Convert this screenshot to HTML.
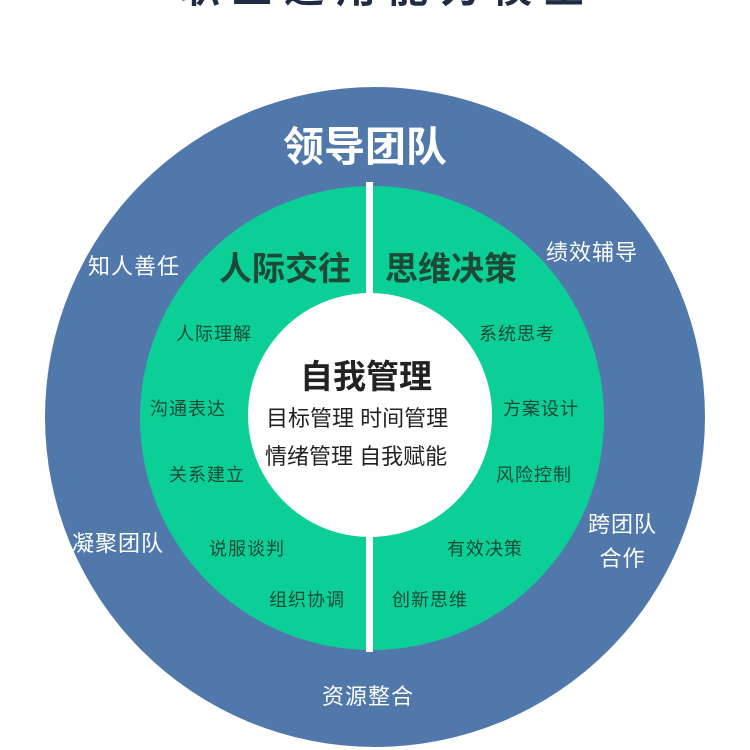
<!DOCTYPE html>
<html><head><meta charset="utf-8"><style>
html,body{margin:0;padding:0;background:#fff;}
body{width:750px;height:750px;position:relative;overflow:hidden;font-family:"Liberation Sans","Noto Sans CJK SC",sans-serif;}
.t{position:absolute;white-space:nowrap;}
.w{color:#fff;font-size:22px;letter-spacing:1px;}
.g{color:#1d4a36;font-size:18px;letter-spacing:1px;}
</style></head><body>
<svg width="750" height="750" style="position:absolute;left:0;top:0">
<circle cx="375" cy="417" r="330" fill="#5078aa"/>
<circle cx="372" cy="418" r="232" fill="#0ccf98"/>
<rect x="366" y="182" width="7" height="470" fill="#fff"/>
<circle cx="370" cy="415" r="122" fill="#fff"/>
</svg>
<div class="t" style="left:180px;top:-44px;font-size:40px;font-weight:bold;color:#1e2c44;letter-spacing:12px;">职业通用能力模型</div>
<div class="t" style="left:283px;top:113px;font-size:41px;font-weight:bold;color:#fff;">领导团队</div>
<div class="t w" style="left:88px;top:249px;">知人善任</div>
<div class="t w" style="left:546px;top:235px;">绩效辅导</div>
<div class="t w" style="left:72px;top:526px;">凝聚团队</div>
<div class="t w" style="left:588px;top:508px;line-height:34px;text-align:center;">跨团队<br>合作</div>
<div class="t w" style="left:322px;top:679px;">资源整合</div>
<div class="t" style="left:219px;top:242px;font-size:33px;font-weight:bold;color:#1d4a36;">人际交往</div>
<div class="t" style="left:385px;top:242px;font-size:33px;font-weight:bold;color:#1d4a36;">思维决策</div>
<div class="t g" style="left:176px;top:320px;">人际理解</div>
<div class="t g" style="left:150px;top:395px;">沟通表达</div>
<div class="t g" style="left:169px;top:461px;">关系建立</div>
<div class="t g" style="left:209px;top:535px;">说服谈判</div>
<div class="t g" style="left:269px;top:586px;">组织协调</div>
<div class="t g" style="left:479px;top:320px;">系统思考</div>
<div class="t g" style="left:503px;top:395px;">方案设计</div>
<div class="t g" style="left:496px;top:461px;">风险控制</div>
<div class="t g" style="left:447px;top:535px;">有效决策</div>
<div class="t g" style="left:392px;top:586px;">创新思维</div>
<div class="t" style="left:300px;top:350px;font-size:33px;font-weight:bold;color:#222;">自我管理</div>
<div class="t" style="left:266px;top:401px;font-size:22px;color:#222;">目标管理&nbsp;时间管理</div>
<div class="t" style="left:265px;top:439px;font-size:22px;color:#222;">情绪管理&nbsp;自我赋能</div>
</body></html>
